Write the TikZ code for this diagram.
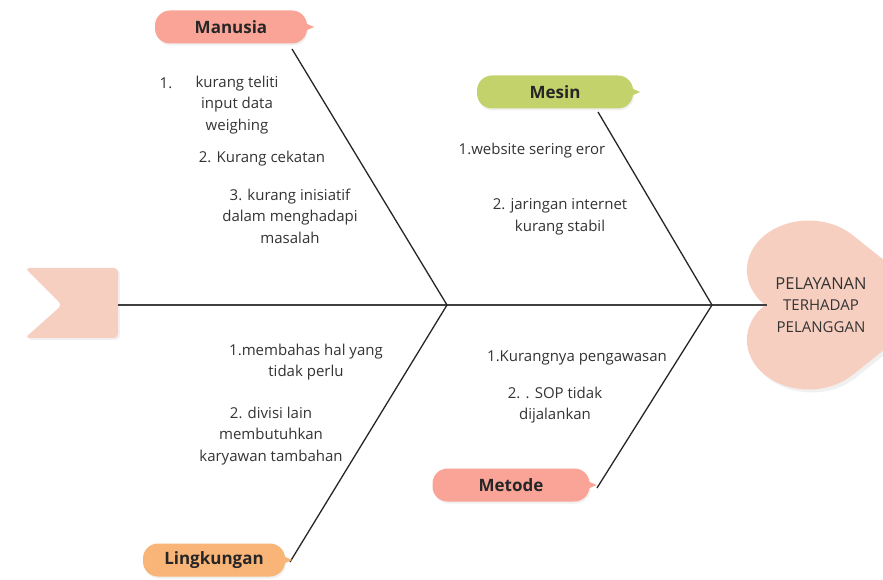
\documentclass[tikz,border=0pt]{standalone}
\usepackage{fontspec}
\setmainfont{Open Sans}
\usetikzlibrary{shadows}

\definecolor{tagred}{HTML}{F9A497}
\definecolor{taggreen}{HTML}{C3D26A}
\definecolor{tagorange}{HTML}{F9B478}
\definecolor{heartpink}{HTML}{F7CFC0}
\definecolor{txtgray}{HTML}{333333}

\tikzset{
    bone/.style={black!85, line width=1.3pt},
    tag/.style={fill=#1, rounded corners=15pt, minimum height=33pt, inner sep=0pt,
        font=\fontsize{17}{20}\selectfont\bfseries, text=black!85,
        drop shadow={opacity=0.12, shadow xshift=1pt, shadow yshift=-2pt}},
    cause/.style={font=\fontsize{15}{21.5}\selectfont, text=txtgray, align=center, inner sep=0pt}
}

\begin{document}
\begin{tikzpicture}[x=1pt, y=1pt]
                \useasboundingbox (0,0) rectangle (883,579);
                \clip (0,0) rectangle (883,579);
                \coordinate (S) at (118,274);
                \coordinate (H) at (767,274);
                \coordinate (J) at (447,274);
                \coordinate (K) at (712,274);
                \coordinate (A) at (292,530);
                \coordinate (B) at (598,467);
                \coordinate (C) at (290,17);
                \coordinate (D) at (597,91);
                \begin{scope}[shift={(765,274)}, xscale=1.25]
                    \fill[heartpink, drop shadow={opacity=0.12, shadow xshift=3pt, shadow yshift=-3pt}]
                        (0,0) arc[start angle=225, end angle=45, radius=49.5] -- (140,0)
                        -- (70,-70) arc[start angle=-45, end angle=-225, radius=49.5] -- cycle;
                \end{scope}
                \fill[heartpink, rounded corners=4pt, drop shadow={opacity=0.1, shadow xshift=2pt, shadow yshift=-2pt}]
                    (25,311) -- (118,311) -- (118,241) -- (25,241) -- (62,274) -- cycle;
                \draw[bone, black!75] (S) -- (H);
                \draw[bone] (A) -- (J) -- (C);
                \draw[bone] (B) -- (K) -- (D);
                \node[tag=tagred, minimum width=152pt] (m) at (231,552) {Manusia};
                \node[tag=taggreen, minimum width=156pt] (ms) at (555,487) {Mesin};
                \node[tag=tagred, minimum width=157pt] (mt) at (511,94) {Metode};
                \node[tag=tagorange, minimum width=142pt] (lk) at (214,19) {Lingkungan};
                \foreach \n/\c in {m/tagred, ms/taggreen, mt/tagred, lk/tagorange}
                    \fill[\c] ([xshift=-12pt,yshift=8pt]\n.east) -- ([xshift=7pt]\n.east) -- ([xshift=-12pt,yshift=-8pt]\n.east) -- cycle;
                \node[cause] (p) at (821,274) {\fontsize{16.5}{23}\selectfont PELAYANAN\\TERHADAP\\PELANGGAN};
                \node[cause] (m0) at (166,496) {1.};
                \node[cause] (m1) at (237,474) {kurang teliti\\input data\\weighing};
                \node[cause] (m2) at (262,420) {2. Kurang cekatan};
                \node[cause] (m3) at (290,363) {3. kurang inisiatif\\dalam menghadapi\\masalah};
                \node[cause] (s1) at (532,428) {1.website sering eror};
                \node[cause] (s2) at (560,362) {2. jaringan internet\\kurang stabil};
                \node[cause] (l1) at (306,217) {1.membahas hal yang\\tidak perlu};
                \node[cause] (l2) at (271,143) {2. divisi lain\\membutuhkan\\karyawan tambahan};
                \node[cause] (t1) at (577,221) {1.Kurangnya pengawasan};
                \node[cause] (t2) at (555,174) {2. . SOP tidak\\dijalankan};
            \end{tikzpicture}
\end{document}
